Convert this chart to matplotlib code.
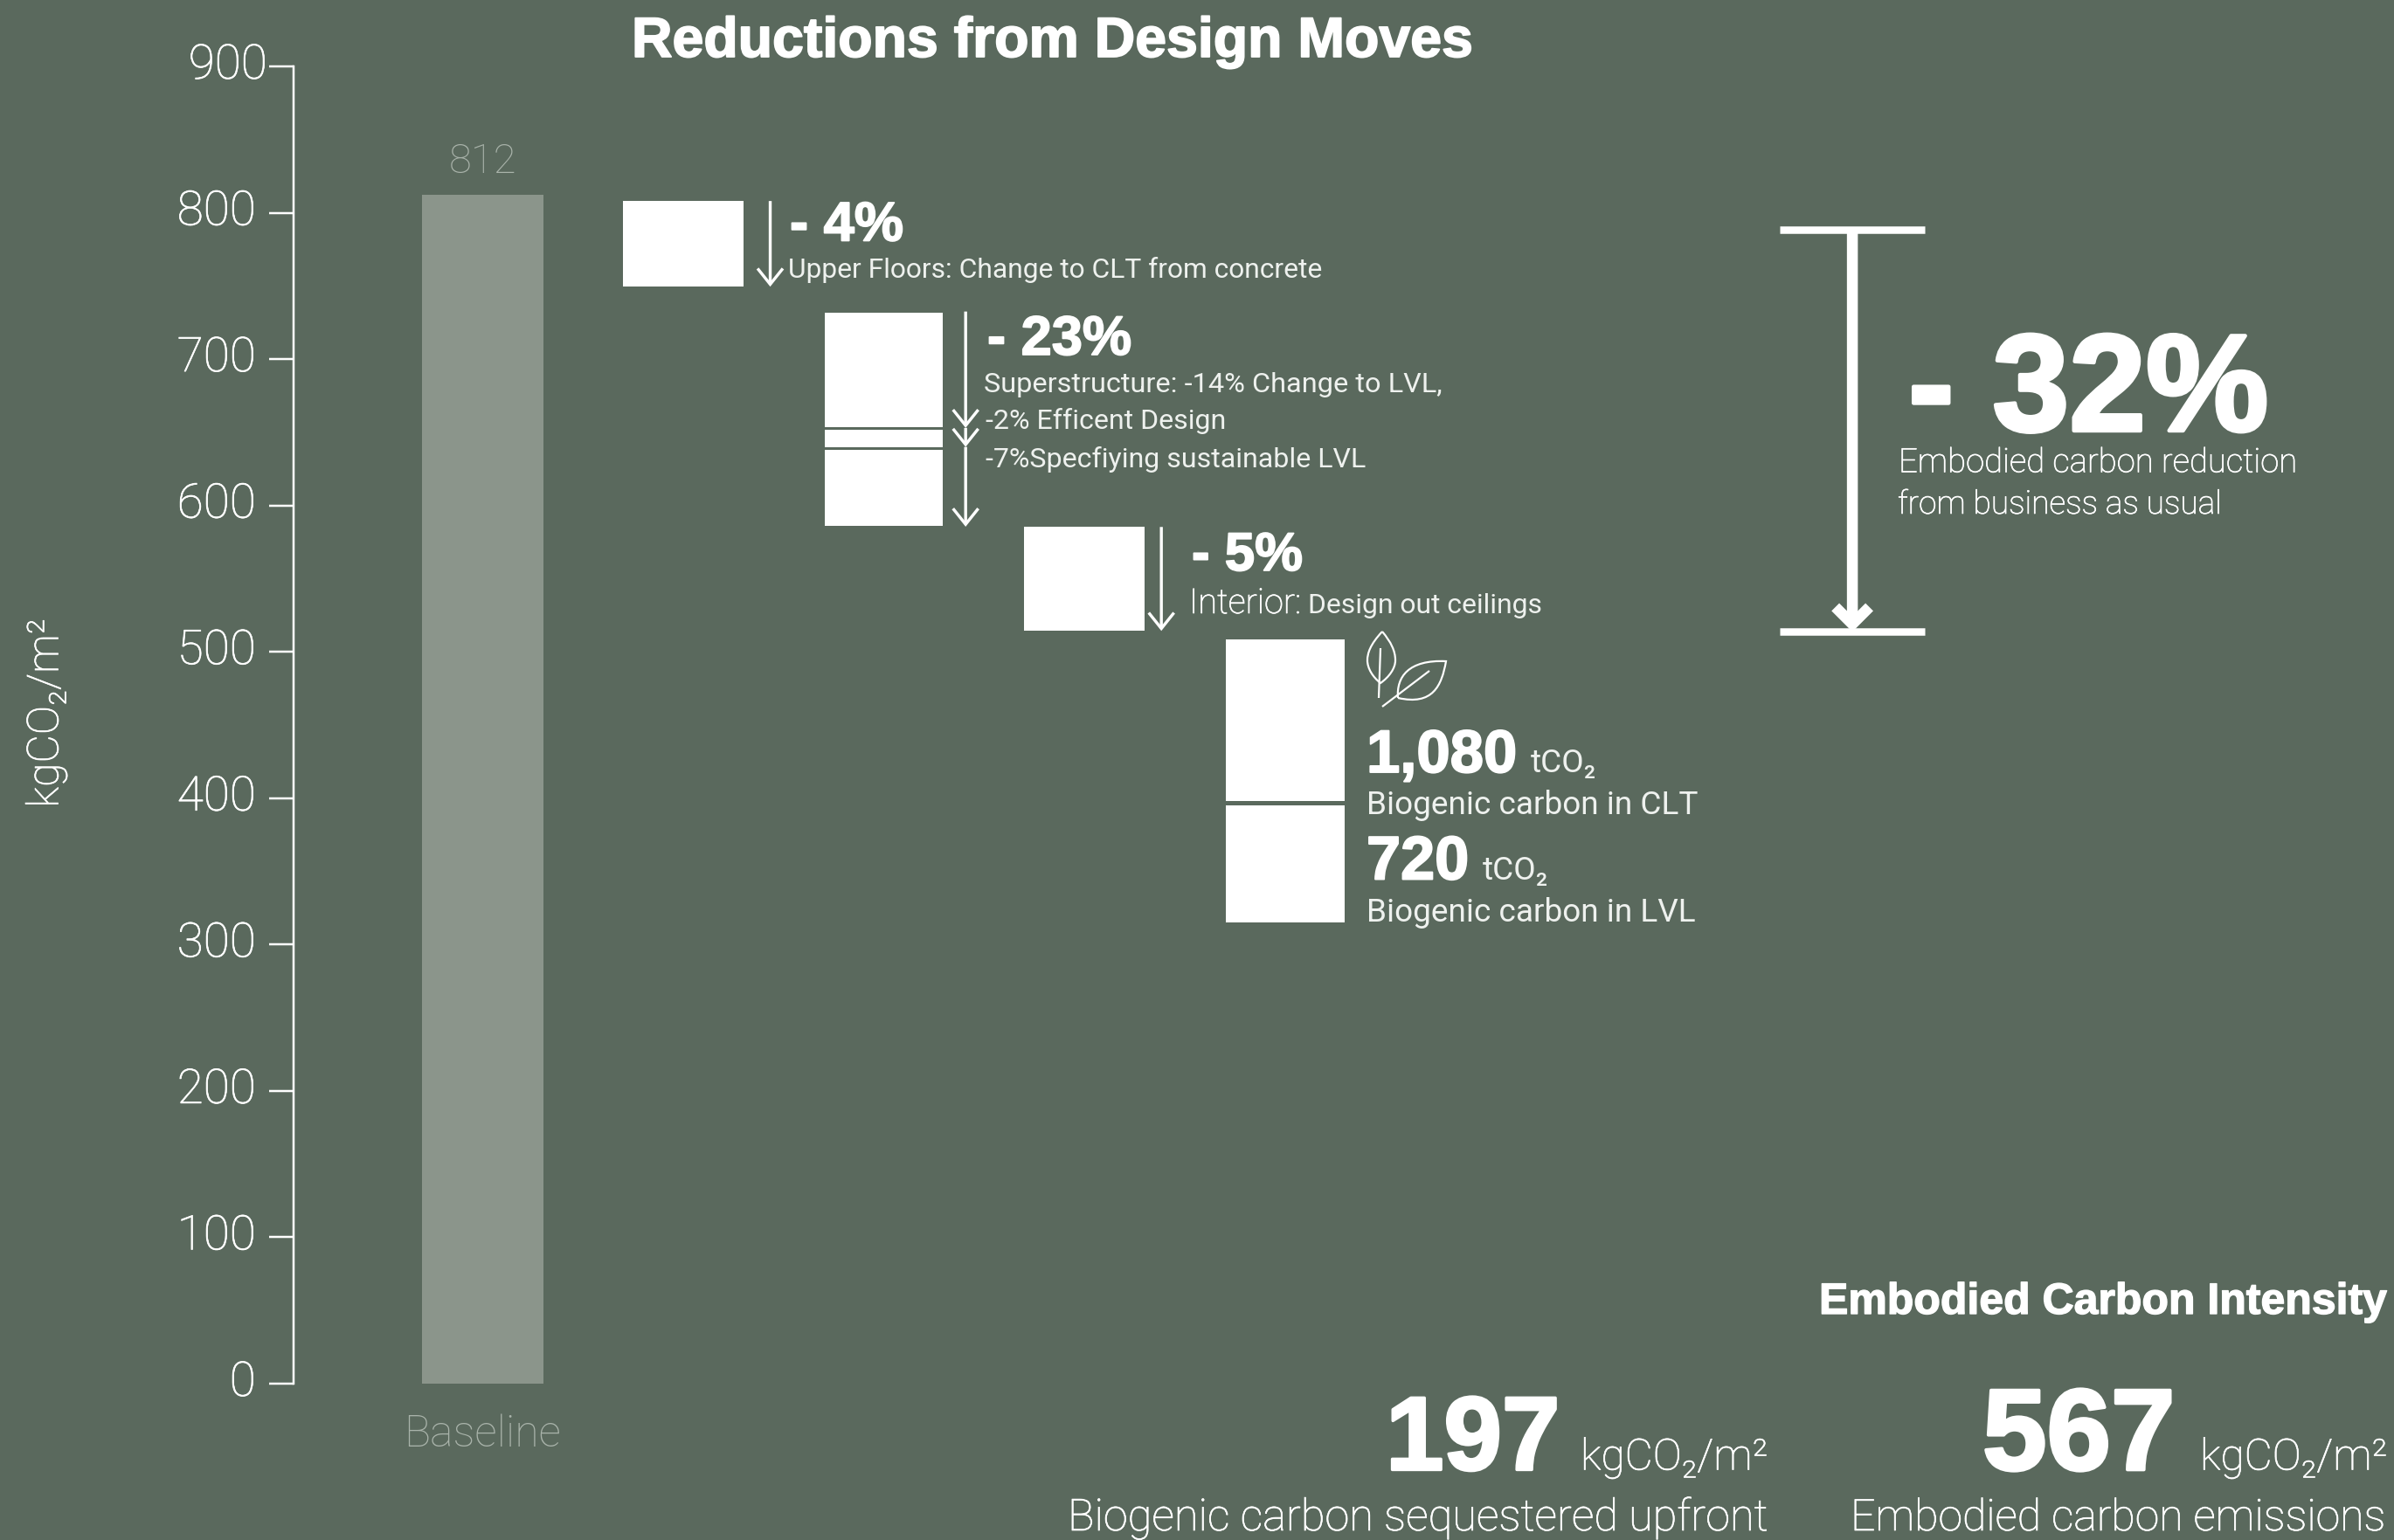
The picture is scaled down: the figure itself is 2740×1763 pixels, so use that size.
import matplotlib
matplotlib.use("Agg")
import matplotlib.pyplot as plt
import matplotlib.patheffects as pe
from matplotlib.path import Path
from matplotlib.patches import PathPatch
from matplotlib.transforms import Affine2D

# Data
categories = ["Baseline"]
baseline_values = [812]
y_ticks = [0, 100, 200, 300, 400, 500, 600, 700, 800, 900]

# Floating blocks of the reduction waterfall: (step index, top, bottom) in kgCO2/m2
upper_floors = (1, 808.0, 749.5)
superstructure = [(2, 731.8, 653.3), (2, 651.6, 640.0), (2, 638.0, 586.0)]
interior = (3, 585.3, 514.3)
biogenic = [(4, 508.5, 398.2), (4, 395.0, 315.2)]

# Drops marked by arrows: (x position, from, to)
drop_arrows = [
    (1.4335, 808.0, 749.5),
    (2.408, 732.5, 653.0),
    (2.408, 653.0, 640.0),
    (2.408, 640.0, 585.5),
    (3.384, 585.3, 514.3),
]
total_reduction = (788.5, 513.7)

BG = "#5A695D"
MUTED_BAR = "#8B958B"
MUTED_TEXT = "#A9B3AA"
WHITE = "#FFFFFF"
SOFT_WHITE = "#EEF1EE"
W, H = 2740, 1763
PX = 72 / 100  # points per pixel at 100 dpi

LIGHT = ["Roboto", "DejaVu Sans"]
BOLD = ["Liberation Sans", "DejaVu Sans"]
THIN_STROKE = [pe.withStroke(linewidth=0.5, foreground=WHITE)]

fig = plt.figure(figsize=((W + 0.01) / 100, (H + 0.01) / 100), dpi=100, facecolor=BG)
ax = fig.add_axes([336 / W, 1 - 1584 / H, (W - 336) / W, 1508 / H], facecolor="none")
ax.set_xlim(-0.9434, 9.531)
ax.set_ylim(0, 900)
for side in ("top", "right", "bottom"):
    ax.spines[side].set_visible(False)
ax.spines["left"].set_color(WHITE)
ax.spines["left"].set_linewidth(2.5 * PX)

# Baseline column
bars = ax.bar([0], baseline_values, width=0.606, color=MUTED_BAR, linewidth=0)
ax.bar_label(bars, labels=[str(v) for v in baseline_values], padding=12, color=MUTED_TEXT,
             fontsize=34, family=LIGHT, fontweight="light")
ax.set_xticks([0], categories)
ax.tick_params(axis="x", length=0, pad=25, labelcolor=MUTED_TEXT, labelsize=36)
for lab in ax.get_xticklabels():
    lab.set_family(LIGHT)
    lab.set_fontweight("light")

# Value axis
ax.set_yticks(y_ticks)
ax.tick_params(axis="y", length=28 * PX, width=2.5 * PX, color=WHITE, pad=11,
               labelcolor=WHITE, labelsize=39.5)
for lab, val in zip(ax.get_yticklabels(), y_ticks):
    lab.set_family(LIGHT)
    lab.set_fontweight("light")
    lab.set_path_effects(THIN_STROKE)
    lab.set_transform(lab.get_transform() + Affine2D().translate(13 if val == 900 else 0, 7))
ylab = ax.set_ylabel("kgCO\u2082/m\u00b2", color=WHITE, fontsize=36, family=LIGHT, fontweight="light")
ylab.set_rotation(90)
ylab.set_path_effects(THIN_STROKE)
ax.yaxis.set_label_coords((77 - 336) / (W - 336), 0.509)

# Waterfall blocks
for idx, top, bottom in [upper_floors, *superstructure, interior, *biogenic]:
    width = 0.6 if idx in (1, 3) else 0.592
    ax.bar(idx, top - bottom, bottom=bottom, width=width, color=WHITE, linewidth=0)

# Drop arrows next to each block
for xpos, start, end in drop_arrows:
    ax.annotate("", xy=(xpos, end), xytext=(xpos, start),
                arrowprops=dict(arrowstyle="->,head_length=13,head_width=10.4", mutation_scale=1,
                                lw=3.4 * PX, color=WHITE, shrinkA=0, shrinkB=0,
                                capstyle="butt", joinstyle="miter"))

# Overall reduction bracket
bx = 6.83
start, end = total_reduction
ax.plot([bx - 0.36, bx + 0.36], [start, start], color=WHITE, lw=8.5 * PX, solid_capstyle="butt")
ax.plot([bx - 0.36, bx + 0.36], [end, end], color=WHITE, lw=8.5 * PX, solid_capstyle="butt")
ax.annotate("", xy=(bx, end), xytext=(bx, start),
            arrowprops=dict(arrowstyle="->,head_length=14,head_width=14", mutation_scale=1,
                            lw=12.5 * PX, color=WHITE, shrinkA=0, shrinkB=0,
                            capstyle="butt", joinstyle="miter"))

# Annotation text is laid out in figure pixels, measured from the top left
px = Affine2D().scale(1 / W, -1 / H).translate(0, 1) + fig.transFigure
renderer = fig.canvas.get_renderer()


def put(x0, x1, base, s, weight="normal"):
    fam = BOLD if weight == "bold" else LIGHT
    color = SOFT_WHITE if weight == "normal" else WHITE
    t = fig.text(x0, base, s, transform=px, ha="left", va="baseline", color=color,
                 family=fam, fontweight=weight, fontsize=30)
    size = 30 * (x1 - x0) / t.get_window_extent(renderer).width
    t.set_fontsize(size)
    if weight == "bold":
        # thicken the bold face in proportion to its size
        t.set_path_effects([pe.withStroke(linewidth=size * 0.028, foreground=color)])
    elif weight == "light":
        t.set_path_effects(THIN_STROKE)
    return t


put(723, 1686, 65, "Reductions from Design Moves", "bold")
put(904, 1034, 275.5, "- 4%", "bold")
put(902, 1514, 318, "Upper Floors: Change to CLT from concrete")
put(1130, 1295, 406, "- 23%", "bold")
put(1126, 1649, 449, "Superstructure: -14% Change to LVL,")
put(1128, 1403, 491, "-2% Efficent Design")
put(1128, 1563, 534.5, "-7%Specfiying sustainable LVL")
put(1364, 1491, 653, "- 5%", "bold")
put(1361, 1489, 702, "Interior:", "light")
put(1497, 1765, 702, "Design out ceilings")
put(1564, 1736, 884, "1,080", "bold")
put(1752, 1827, 884, "tCO\u2082")
put(1564, 1943, 931.5, "Biogenic carbon in CLT")
put(1564, 1681, 1006.5, "720", "bold")
put(1697, 1772, 1006.5, "tCO\u2082")
put(1564, 1941, 1055, "Biogenic carbon in LVL")
put(2184, 2596, 493, "- 32%", "bold")
put(2173, 2629, 540.5, "Embodied carbon reduction", "light")
put(2172, 2542, 588, "from business as usual", "light")
put(2082, 2732, 1504, "Embodied Carbon Intensity", "bold")
put(1586, 1785, 1682.5, "197", "bold")
put(1809, 2023, 1682.5, "kgCO\u2082/m\u00b2", "light")
put(1222, 2023, 1752, "Biogenic carbon sequestered upfront", "light")
put(2269, 2489, 1682.5, "567", "bold")
put(2518, 2732, 1682.5, "kgCO\u2082/m\u00b2", "light")
put(2118, 2730, 1752, "Embodied carbon emissions", "light")

# Leaf icon
C4, L, M = Path.CURVE4, Path.LINETO, Path.MOVETO
leaf_paths = [
    ([(1582, 723), (1568, 738), (1565, 748), (1565, 756), (1565, 765), (1571, 775), (1580, 782),
      (1590, 775), (1597, 765), (1597, 756), (1597, 745), (1592, 735), (1582, 723)],
     [M, C4, C4, C4, C4, C4, C4, C4, C4, C4, C4, C4, C4]),
    ([(1580, 742), (1578, 799)], [M, L]),
    ([(1582, 809), (1636, 768)], [M, L]),
    ([(1600, 799), (1598, 775), (1612, 755), (1655, 757),
      (1650, 785), (1640, 808), (1600, 799)],
     [M, C4, C4, C4, C4, C4, C4]),
]
for verts, codes in leaf_paths:
    fig.add_artist(PathPatch(Path(verts, codes), transform=px, facecolor="none",
                             edgecolor=WHITE, lw=2.2 * PX))

fig.savefig("out.png", dpi=100, facecolor=BG)
